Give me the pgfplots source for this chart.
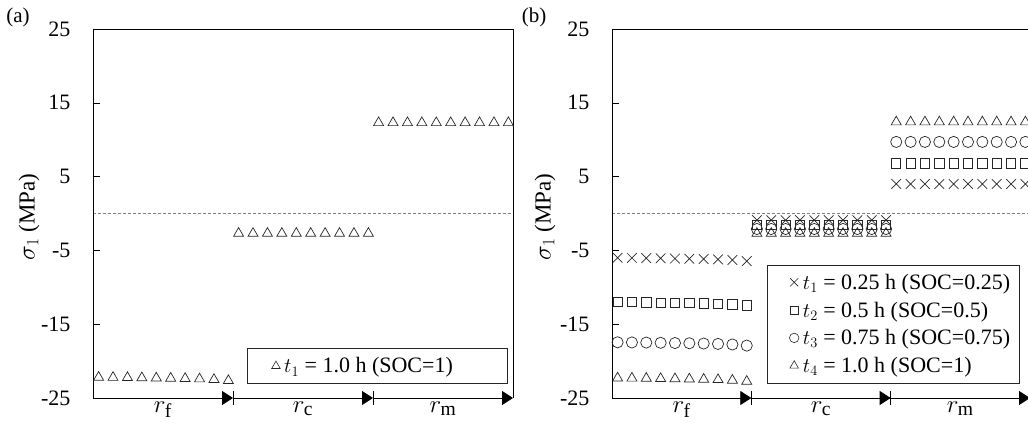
\documentclass[border=0pt]{standalone}
\usepackage{fontspec}
\setmainfont{Liberation Serif}
\usepackage{pgfplots}
\usepackage{pgfplotstable}
\pgfplotsset{compat=1.18}
\usetikzlibrary{arrows.meta}

% x = position along r, a = panel (a), c/s/o/t = panel (b) cross/square/circle/triangle
\pgfplotstableread{
x     a       c      s       o       t
0.40  -22.20  -6.00  -12.00  -17.45  -22.30
1.43  -22.22  -6.02  -12.02  -17.47  -22.32
2.46  -22.24  -6.04  -12.04  -17.49  -22.34
3.49  -22.27  -6.07  -12.07  -17.52  -22.37
4.52  -22.30  -6.10  -12.10  -17.55  -22.40
5.55  -22.33  -6.13  -12.13  -17.58  -22.43
6.58  -22.37  -6.17  -12.17  -17.62  -22.47
7.61  -22.42  -6.22  -12.22  -17.67  -22.52
8.64  -22.50  -6.30  -12.30  -17.75  -22.60
9.67  -22.65  -6.45  -12.45  -17.90  -22.75
10.40 -2.70   -0.90  -1.50   -2.10   -2.70
11.43 -2.70   -0.90  -1.50   -2.10   -2.70
12.46 -2.70   -0.90  -1.50   -2.10   -2.70
13.49 -2.70   -0.90  -1.50   -2.10   -2.70
14.52 -2.70   -0.90  -1.50   -2.10   -2.70
15.55 -2.70   -0.90  -1.50   -2.10   -2.70
16.58 -2.70   -0.90  -1.50   -2.10   -2.70
17.61 -2.70   -0.90  -1.50   -2.10   -2.70
18.64 -2.70   -0.90  -1.50   -2.10   -2.70
19.67 -2.70   -0.90  -1.50   -2.10   -2.70
20.40 12.30   4.00   6.80    9.70    12.40
21.43 12.30   4.00   6.80    9.70    12.40
22.46 12.30   4.00   6.80    9.70    12.40
23.49 12.30   4.00   6.80    9.70    12.40
24.52 12.30   4.00   6.80    9.70    12.40
25.55 12.30   4.00   6.80    9.70    12.40
26.58 12.30   4.00   6.80    9.70    12.40
27.61 12.30   4.00   6.80    9.70    12.40
28.64 12.30   4.00   6.80    9.70    12.40
29.67 12.30   4.00   6.80    9.70    12.40
}\data

\pgfplotsset{
  panel/.style 2 args={
    scale only axis, width=#1, height=369pt,
    xmin=0, xmax=30, ymin=-25, ymax=25,
    clip=false,
    axis line style={draw=none},
    ytick={-25,-15,-5,5,15,25},
    yticklabels={-25,-15,-5,5,15,25},
    ytick pos=left, tick align=inside,
    major tick length=7pt,
    ytick style={black, line width=0.6pt},
    yticklabel style={font=\fontsize{22}{26}\selectfont, xshift=-19pt},
    xtick={5,15,25},
    xticklabels={$r_{\mathrm{f}}$,$r_{\mathrm{c}}$,$r_{\mathrm{m}}$},
    xtick style={draw=none},
    xticklabel style={font=\fontsize{28}{32}\selectfont, yshift=0pt},
    ylabel={$\sigma_1$ (MPa)},
    every axis y label/.style={at={(rel axis cs:0,0.49)}, xshift=#2, rotate=90, anchor=center, font=\fontsize{23}{28}\selectfont},
    legend style={draw=none, fill=none, inner sep=0pt, anchor=west,
      font=\fontsize{22}{26}\selectfont, row sep=7pt, column sep=2pt,
      /tikz/every even column/.append style={column sep=0pt}},
    legend cell align=left,
    legend image code/.code={\draw[##1, mark options={scale=0.85, draw=black!85, line width=0.6pt}] plot coordinates {(0pt,0pt)};},
  },
  mk/.style={only marks, mark=#1, mark options={draw=black!85, line width=0.7pt, fill=none}},
}

\newcommand{\rarrows}{%
  \draw[line width=0.8pt, -{Triangle[length=11pt,width=14pt]}] (axis cs:0,-25) -- (axis cs:10,-25);
  \draw[line width=0.8pt, -{Triangle[length=11pt,width=14pt]}] (axis cs:10,-25) -- (axis cs:20,-25);
  \draw[line width=0.8pt, -{Triangle[length=11pt,width=14pt]}] (axis cs:20,-25) -- (axis cs:30,-25);
  \draw[line width=0.6pt] ([yshift=-7pt]axis cs:10,-25) -- ([yshift=7pt]axis cs:10,-25);
  \draw[line width=0.6pt] ([yshift=-7pt]axis cs:20,-25) -- ([yshift=7pt]axis cs:20,-25);
  \draw[line width=0.8pt] (rel axis cs:0,0) -- (rel axis cs:0,1) -- (rel axis cs:1,1) -- (rel axis cs:1,0);
}

\begin{document}
\begin{tikzpicture}
\path[use as bounding box, clip] (0,0) rectangle (1028pt,-430pt);

% panel (a)
\begin{axis}[panel={420pt}{-64pt}, at={(93pt,-398pt)}, anchor=south west,
  legend style={at={(rel axis cs:0.425,0.0867)}}]
  \addplot[gray, line width=0.6pt, dash pattern=on 3pt off 2pt, forget plot] coordinates {(0,0) (30,0)};
  \addplot[mk=triangle, mark size=5.8pt] table[x=x, y=a] {\data};
  \addlegendentry{$t_1$ = 1.0 h (SOC=1)}
  \rarrows
  \draw[line width=0.8pt, black!85] (rel axis cs:0.3667,0.0407) rectangle (rel axis cs:0.9857,0.1355);
\end{axis}
\node[font=\fontsize{21}{25}\selectfont] at (18pt,-17pt) {(a)};

% panel (b)
\begin{axis}[panel={418pt}{-67pt}, at={(612pt,-398pt)}, anchor=south west,
  legend style={at={(rel axis cs:0.424,0.2005)}}]
  \addplot[gray, line width=0.6pt, dash pattern=on 3pt off 2pt, forget plot] coordinates {(0,0) (30,0)};
  \addplot[mk=x, mark size=6.8pt] table[x=x, y=c] {\data};
  \addlegendentry{$t_1$ = 0.25 h (SOC=0.25)}
  \addplot[mk=square, mark size=4.6pt] table[x=x, y=s] {\data};
  \addlegendentry{$t_2$ = 0.5 h (SOC=0.5)}
  \addplot[mk=o, mark size=5.6pt] table[x=x, y=o] {\data};
  \addlegendentry{$t_3$ = 0.75 h (SOC=0.75)}
  \addplot[mk=triangle, mark size=5.8pt] table[x=x, y=t] {\data};
  \addlegendentry{$t_4$ = 1.0 h (SOC=1)}
  \rarrows
  \draw[line width=0.8pt, black!85] (rel axis cs:0.3708,0.0407) rectangle (rel axis cs:0.9737,0.3604);
\end{axis}
\node[font=\fontsize{21}{25}\selectfont] at (534pt,-17pt) {(b)};
\end{tikzpicture}
\end{document}
